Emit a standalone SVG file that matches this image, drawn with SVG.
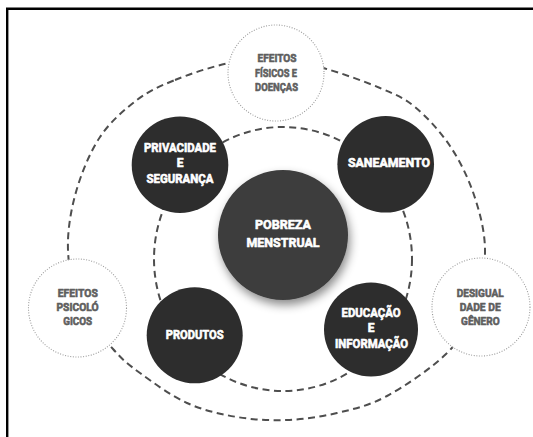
<svg xmlns="http://www.w3.org/2000/svg" width="533" height="437" viewBox="0 0 533 437">
  <defs>
    <style>
      .ring { fill: none; stroke: #4e4e4e; stroke-width: 2; stroke-dasharray: 7 4.5; }
      .outer { fill: #ffffff; stroke: #9c9c9c; stroke-width: 1.1; stroke-dasharray: 1 1.6; }
      .core { fill: #2d2d2d; }
      .hub { fill: #3c3c3c; }
      text { font-family: Roboto, "Liberation Sans", sans-serif; font-weight: bold; text-anchor: middle; stroke-width: 0.6; stroke-linejoin: round; }
      .lt { font-size: 11.5px; fill: #5e5e5e; stroke: #5e5e5e; }
      .dk { font-size: 12px; fill: #ffffff; stroke: #ffffff; }
      .hb { font-size: 13px; fill: #ffffff; stroke: #ffffff; }
    </style>
    <filter id="shadow" x="-30%" y="-30%" width="160%" height="170%">
      <feDropShadow dx="2" dy="5" stdDeviation="5" flood-color="#000000" flood-opacity="0.45"/>
    </filter>
  </defs>

  <rect width="533" height="437" fill="#ffffff"/>
  <!-- frame: left and top edges -->
  <path d="M7.2,437 V8.7 H533" fill="none" stroke="#000000" stroke-width="2.4"/>

  <!-- dashed rings linking the nodes -->
  <g id="connectors">
    <path class="ring" d="M175,80 C190,73.92 210.17,67.17 227,63.5 C243.83,59.83 259.67,57.17 276,58 C292.33,58.83 307.67,63.5 325,68.5 C342.33,73.5 365,81.58 380,88 C395,94.42 403.33,97.33 415,107 C426.67,116.67 440.17,131.33 450,146 C459.83,160.67 468.17,177.67 474,195 C479.83,212.33 484.83,230.83 485,250 C485.17,269.17 481.5,292.67 475,310 C468.5,327.33 460.67,339.67 446,354 C431.33,368.33 405.17,386.17 387,396 C368.83,405.83 353.67,409 337,413 C320.33,417 303.67,419.33 287,420 C270.33,420.67 253.67,419.83 237,417 C220.33,414.17 203.17,410.33 187,403 C170.83,395.67 152.33,382 140,373 C127.67,364 123,360.33 113,349 C103,337.67 87.5,321.5 80,305 C72.5,288.5 68.67,268.83 68,250 C67.33,231.17 70.67,210.83 76,192 C81.33,173.17 89.83,152.33 100,137 C110.17,121.67 124.5,109.5 137,100 C149.5,90.5 160,86.08 175,80 Z"/>
    <ellipse class="ring" cx="283" cy="259" rx="129" ry="132"/>
  </g>

  <!-- outer ring nodes -->
  <g id="efeitos-fisicos">
    <circle class="outer" cx="276" cy="73" r="48"/>
    <text class="lt" x="277" y="61.7" textLength="39" lengthAdjust="spacingAndGlyphs">EFEITOS</text>
    <text class="lt" x="276" y="76.7" textLength="42" lengthAdjust="spacingAndGlyphs">FÍSICOS E</text>
    <text class="lt" x="276.5" y="90.7" textLength="43" lengthAdjust="spacingAndGlyphs">DOENÇAS</text>
  </g>
  <g id="efeitos-psicologicos">
    <circle class="outer" cx="77.5" cy="308" r="49"/>
    <text class="lt" x="77.8" y="296.7" textLength="40" lengthAdjust="spacingAndGlyphs">EFEITOS</text>
    <text class="lt" x="77.5" y="311" textLength="42" lengthAdjust="spacingAndGlyphs">PSICOLÓ</text>
    <text class="lt" x="77.7" y="325" textLength="29" lengthAdjust="spacingAndGlyphs">GICOS</text>
  </g>
  <g id="desigualdade-genero">
    <circle class="outer" cx="481" cy="307" r="49"/>
    <text class="lt" x="480.2" y="296.7" textLength="47" lengthAdjust="spacingAndGlyphs">DESIGUAL</text>
    <text class="lt" x="480.2" y="311" textLength="41" lengthAdjust="spacingAndGlyphs">DADE DE</text>
    <text class="lt" x="480.3" y="325" textLength="38.5" lengthAdjust="spacingAndGlyphs">GÊNERO</text>
  </g>

  <!-- inner ring nodes -->
  <g id="privacidade">
    <circle class="core" cx="180" cy="164.7" r="48.3"/>
    <text class="dk" x="180" y="151.7" textLength="72" lengthAdjust="spacingAndGlyphs">PRIVACIDADE</text>
    <text class="dk" x="180" y="167.3">E</text>
    <text class="dk" x="180" y="183.3" textLength="67" lengthAdjust="spacingAndGlyphs">SEGURANÇA</text>
  </g>
  <g id="saneamento">
    <circle class="core" cx="385.7" cy="164.3" r="48.3"/>
    <text class="dk" x="389" y="167.3" textLength="82" lengthAdjust="spacingAndGlyphs">SANEAMENTO</text>
  </g>
  <g id="produtos">
    <circle class="core" cx="194.7" cy="335.3" r="48"/>
    <text class="dk" x="194.7" y="339" textLength="58" lengthAdjust="spacingAndGlyphs">PRODUTOS</text>
  </g>
  <g id="educacao">
    <circle class="core" cx="371" cy="329.5" r="47"/>
    <text class="dk" x="371" y="317.3" textLength="59" lengthAdjust="spacingAndGlyphs">EDUCAÇÃO</text>
    <text class="dk" x="371" y="332">E</text>
    <text class="dk" x="371.5" y="347.7" textLength="73" lengthAdjust="spacingAndGlyphs">INFORMAÇÃO</text>
  </g>

  <!-- central node -->
  <g id="pobreza-menstrual">
    <circle class="hub" cx="283" cy="235" r="65" filter="url(#shadow)"/>
    <text class="hb" x="283" y="229.3" textLength="56" lengthAdjust="spacingAndGlyphs">POBREZA</text>
    <text class="hb" x="283" y="246.7" textLength="73" lengthAdjust="spacingAndGlyphs">MENSTRUAL</text>
  </g>
</svg>
